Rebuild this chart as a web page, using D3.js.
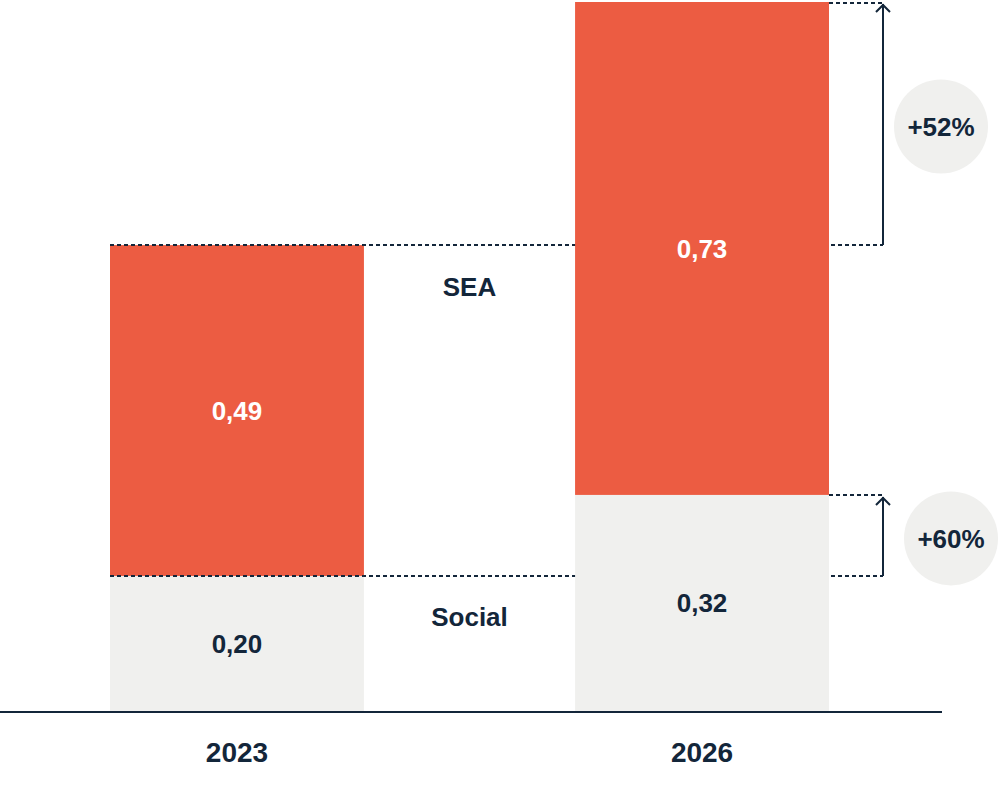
<!DOCTYPE html>
<html>
  <head>
    <meta charset="utf-8" />
    <title>SEA vs Social</title>
    <script src="https://cdn.jsdelivr.net/npm/d3@7/dist/d3.min.js"></script>
    <style>
      body { margin: 0; background: #fff; }
      text { font-family: "Liberation Sans", Arial, sans-serif; font-weight: 700; }
    </style>
  </head>
  <body>
    <div id="canvas"></div>
    <script>
      // data
      const years = ["2023", "2026"];
      const social = [0.20, 0.32];
      const sea = [0.49, 0.73];
      const labels = ["0,20", "0,32"];
      const seaLabels = ["0,49", "0,73"];
      const growth = ["+60%", "+52%"];

      const width = 1000;
      const height = 792;
      const dark = "#13263a";
      const orange = "#ec5c42";
      const grey = "#f0f0ee";

      const svg = d3
        .create("svg")
        .attr("width", width)
        .attr("height", height)
        .attr("viewBox", [0, 0, width, height]);

      const x = d3.scaleBand().domain(years).range([110, 829]).paddingInner(0.454);
      const y = d3.scaleLinear().domain([0, 1.05]).range([711, 2]);

      const rows = years.map((yr, i) => ({
        year: yr,
        social: social[i],
        sea: sea[i],
        socialLabel: labels[i],
        seaLabel: seaLabels[i],
      }));

      // dashed guide lines (drawn under the bars)
      const annX = 883;
      const guides = svg.append("g")
        .attr("stroke", dark)
        .attr("stroke-width", 2)
        .attr("stroke-dasharray", "4 3");
      const r0 = rows[0], r1 = rows[1];
      guides.append("line")
        .attr("x1", x(r0.year)).attr("x2", annX)
        .attr("y1", y(r0.social)).attr("y2", y(r0.social));
      guides.append("line")
        .attr("x1", x(r0.year)).attr("x2", annX)
        .attr("y1", y(r0.social + r0.sea)).attr("y2", y(r0.social + r0.sea));
      guides.append("line")
        .attr("x1", x(r1.year) + x.bandwidth()).attr("x2", annX)
        .attr("y1", y(r1.social)).attr("y2", y(r1.social));
      guides.append("line")
        .attr("x1", x(r1.year) + x.bandwidth()).attr("x2", annX)
        .attr("y1", y(r1.social + r1.sea) + 1).attr("y2", y(r1.social + r1.sea) + 1);

      // bars
      const bars = svg.append("g").selectAll().data(rows).join("g");
      bars.append("rect")
        .attr("x", (d) => x(d.year))
        .attr("width", x.bandwidth())
        .attr("y", (d) => y(d.social))
        .attr("height", (d) => y(0) - y(d.social))
        .attr("fill", grey);
      bars.append("rect")
        .attr("x", (d) => x(d.year))
        .attr("width", x.bandwidth())
        .attr("y", (d) => y(d.social + d.sea))
        .attr("height", (d) => y(d.social) - y(d.social + d.sea))
        .attr("fill", orange);

      // guides again over the 2023 bar edges
      svg.append("g")
        .attr("stroke", dark)
        .attr("stroke-width", 2)
        .attr("stroke-dasharray", "4 3")
        .selectAll()
        .data([r0.social, r0.social + r0.sea])
        .join("line")
        .attr("x1", x(r0.year)).attr("x2", x(r0.year) + x.bandwidth())
        .attr("y1", (d) => y(d)).attr("y2", (d) => y(d));

      // value labels
      bars.append("text")
        .attr("x", (d) => x(d.year) + x.bandwidth() / 2)
        .attr("y", (d) => (y(0) + y(d.social)) / 2)
        .attr("dy", "0.36em")
        .attr("text-anchor", "middle")
        .attr("font-size", 26)
        .attr("fill", dark)
        .text((d) => d.socialLabel);
      bars.append("text")
        .attr("x", (d) => x(d.year) + x.bandwidth() / 2)
        .attr("y", (d) => (y(d.social) + y(d.social + d.sea)) / 2)
        .attr("dy", "0.36em")
        .attr("text-anchor", "middle")
        .attr("font-size", 26)
        .attr("fill", "#fff")
        .text((d) => d.seaLabel);

      // series labels between the bars
      const midX = (x(r0.year) + x.bandwidth() + x(r1.year)) / 2;
      svg.append("text")
        .attr("x", midX).attr("y", y(r0.social + r0.sea) + 42)
        .attr("dy", "0.36em").attr("text-anchor", "middle")
        .attr("font-size", 26).attr("fill", dark)
        .text("SEA");
      svg.append("text")
        .attr("x", midX).attr("y", y(r0.social) + 41)
        .attr("dy", "0.36em").attr("text-anchor", "middle")
        .attr("font-size", 26).attr("fill", dark)
        .text("Social");

      // baseline + years
      svg.append("line")
        .attr("x1", 0).attr("x2", 942)
        .attr("y1", y(0) + 1).attr("y2", y(0) + 1)
        .attr("stroke", dark).attr("stroke-width", 2);
      svg.append("g").selectAll().data(years).join("text")
        .attr("x", (d) => x(d) + x.bandwidth() / 2)
        .attr("y", 752)
        .attr("dy", "0.36em")
        .attr("text-anchor", "middle")
        .attr("font-size", 28)
        .attr("fill", dark)
        .text((d) => d);

      // growth arrows and bubbles
      const arrows = [
        { from: r0.social, to: r1.social, label: growth[0], cx: 951 },
        { from: r0.social + r0.sea, to: r1.social + r1.sea, label: growth[1], cx: 941 },
      ];
      const ag = svg.append("g").selectAll().data(arrows).join("g");
      ag.append("line")
        .attr("x1", annX).attr("x2", annX)
        .attr("y1", (d) => y(d.from)).attr("y2", (d) => y(d.to) + 2)
        .attr("stroke", dark).attr("stroke-width", 2);
      ag.append("path")
        .attr("d", (d) => `M${annX - 7},${y(d.to) + 10}L${annX},${y(d.to) + 3}L${annX + 7},${y(d.to) + 10}`)
        .attr("fill", "none").attr("stroke", dark).attr("stroke-width", 2);
      ag.append("circle")
        .attr("cx", (d) => d.cx)
        .attr("cy", (d) => (y(d.from) + y(d.to)) / 2 + 3)
        .attr("r", 47)
        .attr("fill", grey);
      ag.append("text")
        .attr("x", (d) => d.cx)
        .attr("y", (d) => (y(d.from) + y(d.to)) / 2 + 3)
        .attr("dy", "0.36em")
        .attr("text-anchor", "middle")
        .attr("font-size", 26)
        .attr("fill", dark)
        .text((d) => d.label);

      canvas.append(svg.node());
    </script>
  </body>
</html>
